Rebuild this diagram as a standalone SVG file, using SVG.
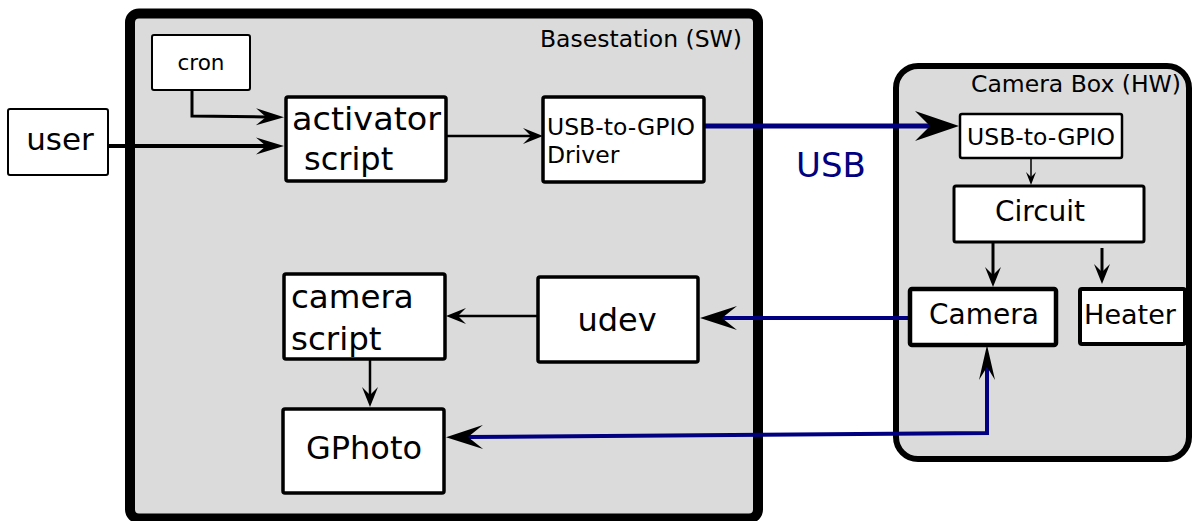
<svg xmlns="http://www.w3.org/2000/svg" width="1192" height="521" viewBox="0 0 1192 521">
  <style>
    text { font-family: "DejaVu Sans", "Liberation Sans", sans-serif; fill: #000; }
    .box { fill: #fff; stroke: #000; }
    .frame { fill: #dbdbdb; stroke: #000; }
    .wire { fill: none; stroke: #000; }
    .usb { fill: none; stroke: #000080; }
    .head { fill: #000; stroke: none; }
  </style>
  <defs>
    <!-- concave arrowheads; origin sits at the notch where the line ends -->
    <marker id="ah-big" markerUnits="userSpaceOnUse" orient="auto" overflow="visible" markerWidth="1" markerHeight="1">
      <path class="head" d="M29,0 L-15,-15 L0,0 L-15,15 Z"/>
    </marker>
    <marker id="ah-med" markerUnits="userSpaceOnUse" orient="auto-start-reverse" overflow="visible" markerWidth="1" markerHeight="1">
      <path class="head" d="M22,0 L-15,-12 L0,0 L-15,12 Z"/>
    </marker>
    <marker id="ah-user" markerUnits="userSpaceOnUse" orient="auto" overflow="visible" markerWidth="1" markerHeight="1">
      <path class="head" d="M18,0 L-10,-8.5 L0,0 L-10,8.5 Z"/>
    </marker>
    <marker id="ah-sm" markerUnits="userSpaceOnUse" orient="auto" overflow="visible" markerWidth="1" markerHeight="1">
      <path class="head" d="M12,0 L-8,-8 L0,0 L-8,8 Z"/>
    </marker>
    <marker id="ah-tiny" markerUnits="userSpaceOnUse" orient="auto" overflow="visible" markerWidth="1" markerHeight="1">
      <path class="head" d="M8,0 L-5,-5 L0,0 L-5,5 Z"/>
    </marker>
    <marker id="ah-narrow" markerUnits="userSpaceOnUse" orient="auto" overflow="visible" markerWidth="1" markerHeight="1">
      <path class="head" d="M22,0 L-13,-8 L0,0 L-13,8 Z"/>
    </marker>
  </defs>

  <rect width="1192" height="521" fill="#fff"/>

  <!-- enclosures -->
  <g id="basestation">
    <rect class="frame" x="130" y="13.5" width="628" height="505" rx="9" stroke-width="10"/>
    <text x="540" y="47" font-size="23.5" textLength="202" lengthAdjust="spacingAndGlyphs">Basestation (SW)</text>
  </g>
  <g id="camera-box">
    <rect class="frame" x="896" y="66" width="293" height="393" rx="22" stroke-width="6"/>
    <text x="971" y="92" font-size="23.5" textLength="210" lengthAdjust="spacingAndGlyphs">Camera Box (HW)</text>
  </g>

  <!-- connectors -->
  <g id="connectors">
    <path class="wire" d="M108,146 L266,146" stroke-width="4" marker-end="url(#ah-user)"/>
    <path class="wire" d="M192,90 L192,116 L266,117" stroke-width="3" marker-end="url(#ah-user)"/>
    <path class="wire" d="M446,136 L531,136" stroke-width="2.5" marker-end="url(#ah-sm)"/>
    <path class="usb" d="M704,126 L930,126" stroke-width="5" marker-end="url(#ah-big)"/>
    <path class="wire" d="M1031,158 L1031,177" stroke-width="1.5" marker-end="url(#ah-tiny)"/>
    <path class="wire" d="M993,243 L993,275" stroke-width="3" marker-end="url(#ah-sm)"/>
    <path class="wire" d="M1102,248 L1102,272" stroke-width="3" marker-end="url(#ah-sm)"/>
    <path class="usb" d="M908,318 L722,318" stroke-width="4" marker-end="url(#ah-med)"/>
    <path class="wire" d="M537,316 L458,316" stroke-width="2.5" marker-end="url(#ah-sm)"/>
    <path class="wire" d="M370,360 L370,395" stroke-width="2.5" marker-end="url(#ah-sm)"/>
    <path class="usb" d="M468,437 L987,433 L987,367" stroke-width="4" marker-start="url(#ah-med)" marker-end="url(#ah-narrow)"/>
    <text x="796" y="177" font-size="34" style="fill:#000080">USB</text>
  </g>

  <!-- nodes -->
  <g id="user">
    <rect class="box" x="8" y="109" width="100" height="66" rx="2" stroke-width="2"/>
    <text x="60" y="150" font-size="31" text-anchor="middle">user</text>
  </g>
  <g id="cron">
    <rect class="box" x="152" y="35" width="98" height="55" rx="2" stroke-width="2"/>
    <text x="201" y="70" font-size="21.5" text-anchor="middle">cron</text>
  </g>
  <g id="activator-script">
    <rect class="box" x="286" y="97" width="160" height="84" rx="2" stroke-width="3.5"/>
    <text x="292" y="130" font-size="32" textLength="149" lengthAdjust="spacingAndGlyphs">activator</text>
    <text x="304" y="170" font-size="32">script</text>
  </g>
  <g id="usb-gpio-driver">
    <rect class="box" x="543" y="97" width="161" height="85" rx="2" stroke-width="3.5"/>
    <text x="547" y="135" font-size="23.5">USB-to-GPIO</text>
    <text x="547" y="163" font-size="23.5">Driver</text>
  </g>
  <g id="camera-script">
    <rect class="box" x="284" y="274" width="161" height="85" rx="2" stroke-width="3.5"/>
    <text x="291" y="308" font-size="32.5">camera</text>
    <text x="291" y="350" font-size="32.5">script</text>
  </g>
  <g id="udev">
    <rect class="box" x="538" y="277" width="160" height="85" rx="2" stroke-width="3.5"/>
    <text x="617" y="331" font-size="32" text-anchor="middle">udev</text>
  </g>
  <g id="gphoto">
    <rect class="box" x="283" y="409" width="161" height="84" rx="2" stroke-width="3.5"/>
    <text x="364" y="459" font-size="32" text-anchor="middle">GPhoto</text>
  </g>
  <g id="usb-gpio">
    <rect class="box" x="960" y="114" width="162" height="44" rx="2" stroke-width="2.5"/>
    <text x="1041" y="145" font-size="23.5" text-anchor="middle">USB-to-GPIO</text>
  </g>
  <g id="circuit">
    <rect class="box" x="954" y="186" width="190" height="56" rx="2" stroke-width="3"/>
    <text x="1040" y="221" font-size="28" text-anchor="middle">Circuit</text>
  </g>
  <g id="camera">
    <rect class="box" x="910" y="289" width="146" height="56" rx="2" stroke-width="4.5"/>
    <text x="984" y="324" font-size="28" text-anchor="middle">Camera</text>
  </g>
  <g id="heater">
    <rect class="box" x="1080" y="289" width="105" height="55" rx="2" stroke-width="4"/>
    <text x="1130" y="324" font-size="27" text-anchor="middle">Heater</text>
  </g>
</svg>
